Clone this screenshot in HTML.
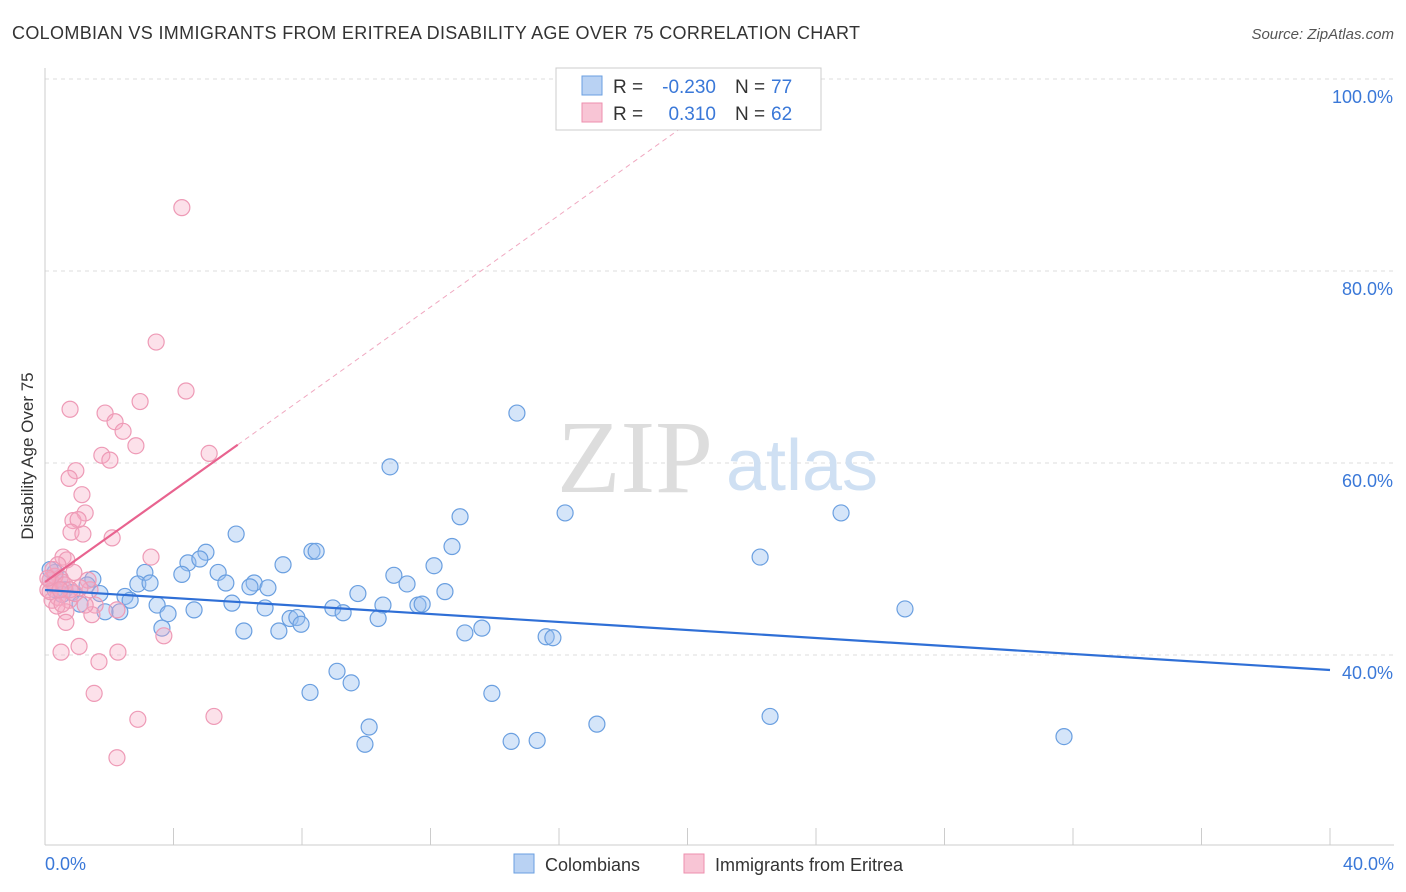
<!DOCTYPE html>
<html><head><meta charset="utf-8">
<style>
body{margin:0;background:#fff;width:1406px;height:892px;overflow:hidden;font-family:"Liberation Sans",sans-serif;}
svg{display:block}
</style></head>
<body>
<svg id="chart" width="1406" height="892">
<text x="12" y="39" font-size="18" fill="#333" textLength="848" lengthAdjust="spacing">COLOMBIAN VS IMMIGRANTS FROM ERITREA DISABILITY AGE OVER 75 CORRELATION CHART</text>
<text x="1394" y="39" font-size="15" fill="#555" font-style="italic" text-anchor="end">Source: ZipAtlas.com</text>
<g id="grid"></g>
<text x="635" y="492" font-size="104" font-family="Liberation Serif,serif" fill="#ddd" text-anchor="middle">ZIP</text>
<text x="802" y="490" font-size="72" fill="#cfe0f3" text-anchor="middle">atlas</text>
<line x1="45" y1="68" x2="45" y2="845" stroke="#ccc"/>
<line x1="45" y1="845" x2="1394" y2="845" stroke="#ccc"/>
<g id="xticks"></g>
<g id="ylabels"></g>
<text x="45" y="870" font-size="18" fill="#3a78d8">0.0%</text>
<text x="1394" y="870" font-size="18" fill="#3a78d8" text-anchor="end">40.0%</text>
<text transform="translate(33,456) rotate(-90)" font-size="17" fill="#333" text-anchor="middle">Disability Age Over 75</text>
<g id="pts"></g>
<g id="trends"></g>
<g>
<rect x="556" y="68" width="265" height="62" fill="#fff" stroke="#ccc"/>
<rect x="582" y="76" width="20" height="19" fill="#b9d2f3" stroke="#6a9fe0"/>
<rect x="582" y="103" width="20" height="19" fill="#f8c5d5" stroke="#ee8fae"/>
<text x="613" y="93" font-size="19" fill="#333">R =</text>
<text x="716" y="93" font-size="19" fill="#3a78d8" text-anchor="end">-0.230</text>
<text x="735" y="93" font-size="19" fill="#333">N =</text>
<text x="771" y="93" font-size="19" fill="#3a78d8">77</text>
<text x="613" y="120" font-size="19" fill="#333">R =</text>
<text x="716" y="120" font-size="19" fill="#3a78d8" text-anchor="end">0.310</text>
<text x="735" y="120" font-size="19" fill="#333">N =</text>
<text x="771" y="120" font-size="19" fill="#3a78d8">62</text>
</g>
<g>
<rect x="514" y="854" width="20" height="19" fill="#b9d2f3" stroke="#6a9fe0"/>
<text x="545" y="871" font-size="18" fill="#333">Colombians</text></g>
<g>
<rect x="684" y="854" width="20" height="19" fill="#f8c5d5" stroke="#ee8fae"/>
<text x="715" y="871" font-size="18" fill="#333">Immigrants from Eritrea</text></g>
</svg>
<script>
const yTicks=[100,80,60,40];
const xTickVals=[0,4,8,12,16,20,24,28,32,36,40];
const blueX=[14.69,10.74,16.19,24.78,12.92,5.95,12.67,8.31,8.44,5.01,22.26,4.45,4.82,7.41,12.11,3.11,5.39,4.26,10.86,6.51,2.89,3.27,5.63,6.94,11.27,9.74,12.45,6.38,1.49,1.31,0.47,0.31,0.16,0.62,0.84,1.71,2.49,2.65,3.49,1.09,5.82,6.85,4.64,3.83,1.87,2.33,8.96,9.28,10.52,11.61,11.74,26.77,7.63,7.84,10.37,7.97,3.64,6.19,7.28,13.07,13.60,15.60,15.81,9.09,9.53,8.25,13.91,22.57,17.18,10.09,9.96,14.51,15.32,31.72,0.16,0.31,0.53];
const blueY=[65.2,59.6,54.8,54.8,54.4,52.6,51.3,50.8,50.8,50.7,50.2,49.6,50.0,49.4,49.3,48.6,48.6,48.4,48.3,47.5,47.4,47.5,47.5,47.0,47.4,46.4,46.6,47.1,47.9,47.3,48.0,48.6,48.9,46.8,46.5,46.4,46.1,45.7,45.2,45.3,45.4,44.9,44.7,44.3,44.5,44.5,44.9,44.4,45.2,45.2,45.3,44.8,43.8,43.9,43.8,43.2,42.8,42.5,42.5,42.3,42.8,41.9,41.8,38.3,37.1,36.1,36.0,33.6,32.8,32.5,30.7,31.0,31.1,31.5,47.8,46.8,46.3];
const pinkX=[4.26,3.46,4.39,0.78,2.96,1.87,2.18,2.43,2.83,5.11,1.77,2.02,0.96,0.75,1.15,1.25,0.87,1.03,0.81,1.18,2.09,3.30,0.56,0.68,0.40,0.90,0.47,0.16,0.31,0.09,0.53,0.22,0.40,0.75,0.93,1.40,1.34,1.56,0.65,1.46,0.65,2.24,3.70,1.06,0.50,2.27,1.68,1.53,2.89,5.26,2.24,0.31,0.62,0.16,0.37,1.09,1.25,0.78,0.25,0.53,0.09,0.47];
const pinkY=[86.6,72.6,67.5,65.6,66.4,65.2,64.3,63.3,61.8,61.0,60.8,60.3,59.2,58.4,56.7,54.8,54.0,54.1,52.8,52.6,52.2,50.2,50.2,49.9,49.4,48.6,48.0,47.8,47.3,46.8,47.6,45.7,46.0,45.7,46.4,46.8,47.8,45.2,44.5,44.2,43.4,44.7,42.0,40.9,40.3,40.3,39.3,36.0,33.3,33.6,29.3,48.2,47.3,46.6,45.1,47.0,45.2,46.8,48.9,45.3,48.0,46.8];
const blueTrend=[0,46.77,40,38.44];
const pinkTrend=[0,47.6,6.0,61.9,19.8,94.9];
const NS="http://www.w3.org/2000/svg";
const sx=v=>45+v*32.125, sy=v=>655-(v-40)*9.6;
function mk(tag,attrs,parent){const e=document.createElementNS(NS,tag);for(const k in attrs)e.setAttribute(k,attrs[k]);parent.appendChild(e);return e;}
const grid=document.getElementById('grid'),yl=document.getElementById('ylabels'),xt=document.getElementById('xticks');
yTicks.forEach(t=>{const l=mk('line',{x1:45,x2:1394,y1:sy(t),y2:sy(t),stroke:'#ddd','stroke-dasharray':'4,4'},grid);


const tx=mk('text',{x:1393,y:sy(t)+24,'font-size':18,fill:'#3a78d8','text-anchor':'end'},yl);tx.textContent=t.toFixed(1)+'%';

});
xTickVals.forEach(t=>{const l=mk('line',{x1:sx(t),x2:sx(t),y1:828,y2:845,stroke:'#ccc'},xt);

});
const pts=document.getElementById('pts');
blueX.forEach((x,i)=>{const c=mk('circle',{cx:sx(x),cy:sy(blueY[i]),r:8,fill:'rgba(150,190,240,0.4)',stroke:'#6a9fe0','stroke-width':1.2},pts);

});
pinkX.forEach((x,i)=>{const c=mk('circle',{cx:sx(x),cy:sy(pinkY[i]),r:8,fill:'rgba(245,170,195,0.35)',stroke:'#ee9ab6','stroke-width':1.2},pts);

});
const tr=document.getElementById('trends');
const bl=mk('line',{x1:sx(blueTrend[0]),y1:sy(blueTrend[1]),x2:sx(blueTrend[2]),y2:sy(blueTrend[3]),stroke:'#2f6fd6','stroke-width':2.2},tr);


const pl=mk('line',{x1:sx(pinkTrend[0]),y1:sy(pinkTrend[1]),x2:sx(pinkTrend[2]),y2:sy(pinkTrend[3]),stroke:'#e8638f','stroke-width':2.2},tr);


const pd=mk('line',{x1:sx(pinkTrend[2]),y1:sy(pinkTrend[3]),x2:sx(pinkTrend[4]),y2:sy(pinkTrend[5]),stroke:'#f0a8c0','stroke-width':1,'stroke-dasharray':'5,4'},tr);


</script>
</body></html>
